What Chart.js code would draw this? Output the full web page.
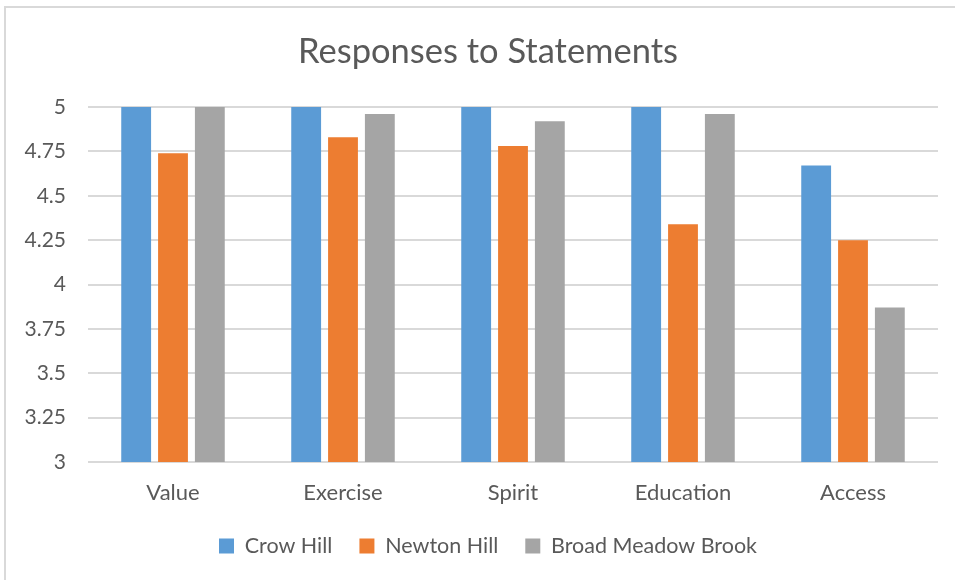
<!DOCTYPE html>
<html>
<head>
<meta charset="utf-8">
<script src="https://cdn.jsdelivr.net/npm/chart.js@4/dist/chart.umd.min.js"></script>
<style>
  html, body { margin: 0; padding: 0; background: #fff; }
  #frame {
    position: absolute; left: 4px; top: 6px; width: 951px; height: 574px;
    border-left: 2px solid #d9d9d9; border-top: 2px solid #d9d9d9;
  }
  #wrap { position: absolute; left: 0; top: 0; width: 955px; height: 580px; }
</style>
</head>
<body>
<div id="frame"></div>
<div id="wrap"><canvas id="chart" width="955" height="580"></canvas></div>
<script>
const categories = ['Value', 'Exercise', 'Spirit', 'Education', 'Access'];
const seriesNames = ['Crow Hill', 'Newton Hill', 'Broad Meadow Brook'];
const crowHill = [5, 5, 5, 5, 4.67];
const newtonHill = [4.74, 4.83, 4.78, 4.34, 4.25];
const broadMeadowBrook = [5, 4.96, 4.92, 4.96, 3.87];
const yTicks = [3, 3.25, 3.5, 3.75, 4, 4.25, 4.5, 4.75, 5];
const colors = ['#5B9BD5', '#ED7D31', '#A5A5A5'];

const textColor = '#595959';
const fontFamily = 'Lato, "Open Sans", sans-serif';

const chart = new Chart(document.getElementById('chart'), {
  type: 'bar',
  data: {
    labels: categories,
    datasets: [crowHill, newtonHill, broadMeadowBrook].map((vals, i) => ({
      label: seriesNames[i],
      data: vals,
      backgroundColor: colors[i],
      borderWidth: 0,
      categoryPercentage: 0.65,
      barPercentage: 0.81
    }))
  },
  options: {
    responsive: false,
    animation: false,
    // negative right padding plus an empty right-hand spacer axis centres
    // the title and legend slightly right of the canvas middle
    layout: { padding: { left: 5, right: -16, top: 0, bottom: 13.25 } },
    plugins: {
      title: {
        display: true,
        text: 'Responses to Statements',
        color: textColor,
        font: { family: fontFamily, size: 34.5, weight: 'normal' },
        padding: { top: 31, bottom: 34.6 }
      },
      legend: {
        position: 'bottom',
        labels: {
          color: textColor,
          font: { family: fontFamily, size: 21.5 },
          boxWidth: 15,
          boxHeight: 15,
          padding: 27
        }
      },
      tooltip: { enabled: false }
    },
    scales: {
      x: {
        grid: { display: false, drawTicks: true, tickLength: 15.75 },
        border: { display: false },
        ticks: {
          color: textColor,
          font: { family: fontFamily, size: 22, lineHeight: 1 },
          padding: 4.25
        }
      },
      y: {
        min: 3,
        max: 5,
        afterFit(scale) { scale.width = 83; },
        afterBuildTicks(scale) { scale.ticks = yTicks.map(v => ({ value: v })); },
        grid: { color: '#d9d9d9', lineWidth: 2, drawTicks: false },
        border: { display: false },
        ticks: {
          color: textColor,
          font: { family: fontFamily, size: 21 },
          padding: 22,
          callback: v => String(v)
        }
      },
      spacer: {
        type: 'linear',
        position: 'right',
        display: true,
        afterFit(scale) { scale.width = 33; },
        grid: { display: false, drawTicks: false },
        border: { display: false },
        ticks: { display: false }
      }
    }
  }
});
</script>
</body>
</html>
